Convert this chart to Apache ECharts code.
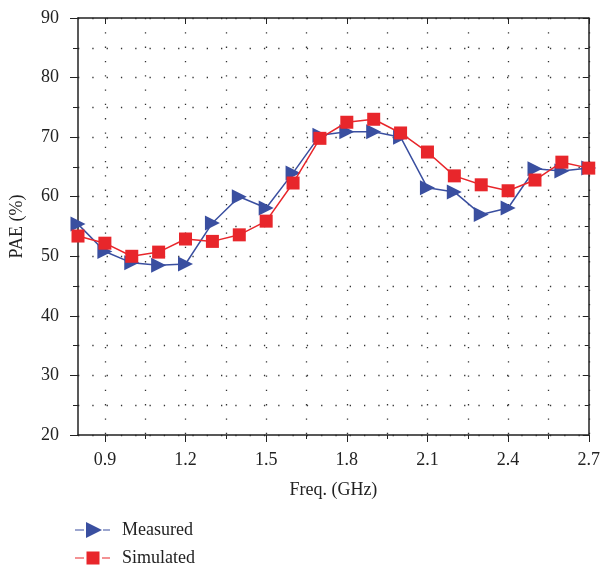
<!DOCTYPE html>
<html>
<head>
<meta charset="utf-8">
<script src="https://cdn.jsdelivr.net/npm/echarts@6/dist/echarts.min.js"></script>
<style>
  html, body { margin: 0; padding: 0; background: #fff; }
  #chart { width: 603px; height: 567px; }
</style>
</head>
<body>
<div id="chart"></div>
<script>
const freq = [0.8, 0.9, 1.0, 1.1, 1.2, 1.3, 1.4, 1.5, 1.6, 1.7, 1.8, 1.9, 2.0, 2.1, 2.2, 2.3, 2.4, 2.5, 2.6, 2.7]
const measured = [55.4, 50.8, 48.9, 48.5, 48.7, 55.6, 60.0, 58.1, 64.0, 70.3, 70.9, 70.9, 70.0, 61.5, 60.8, 57.0, 58.1, 64.7, 64.3, 64.8]
const simulated = [53.4, 52.2, 50.0, 50.7, 52.9, 52.5, 53.6, 55.9, 62.3, 69.8, 72.5, 73.0, 70.7, 67.5, 63.5, 62.0, 61.0, 62.8, 65.8, 64.8]
const xMajor = [0.9, 1.2, 1.5, 1.8, 2.1, 2.4, 2.7]
const xGrid = [0.9, 1.05, 1.2, 1.35, 1.5, 1.65, 1.8, 1.95, 2.1, 2.25, 2.4, 2.55, 2.7]

const font = '"Liberation Serif", "DejaVu Serif", serif'
const ink = '#222'
const dotted = { color: '#333', width: 1.3, type: [1.3, 13] }
const blue = '#3a4fa0'
const red = '#e8262b'
const rightTri = 'path://M0,0 L10,5 L0,10 Z'
// legend icons: short dash, marker, short dash
const triIcon = 'path://M0,7.4h9v1.2h-9z M11,0 L27,8 L11,16 Z M28,7.4h7v1.2h-7z'
const sqIcon = 'path://M0,7.4h9v1.2h-9z M11.5,1.5h13v13h-13z M27,7.4h8v1.2h-8z'

const chart = echarts.init(document.getElementById('chart'))

const baseX = {
  type: 'value',
  min: 0.8,
  max: 2.7,
  axisLine: { show: false },
  axisLabel: { show: false },
  axisTick: { show: false },
  splitLine: { show: false }
}

const legendBase = {
  left: 75,
  padding: 0,
  itemWidth: 35,
  itemHeight: 16,
  itemGap: 12,
  textStyle: { fontFamily: font, fontSize: 18, color: ink, padding: [0, 0, 0, 7] }
}

chart.setOption({
  animation: false,
  grid: { left: 77, right: 12, top: 18, bottom: 132 },
  legend: [
    { ...legendBase, top: 521, data: [{ name: 'Measured', icon: triIcon }] },
    { ...legendBase, top: 549, data: [{ name: 'Simulated', icon: sqIcon }] }
  ],
  xAxis: [
    {
      ...baseX,
      position: 'bottom',
      name: 'Freq. (GHz)',
      nameLocation: 'middle',
      nameGap: 46,
      nameTextStyle: { fontFamily: font, fontSize: 18, color: ink },
      axisLine: { show: true, onZero: false, lineStyle: { color: ink, width: 1.5 } },
      axisTick: { show: true, length: 7, customValues: xMajor, lineStyle: { color: ink } },
      axisLabel: {
        show: true,
        customValues: xMajor,
        margin: 16,
        fontFamily: font,
        fontSize: 18,
        color: ink,
        formatter: (v) => v.toFixed(1)
      }
    },
    {
      ...baseX,
      position: 'bottom',
      axisTick: { show: true, length: 4, customValues: xGrid, lineStyle: { color: ink } },
      splitLine: { show: true, lineStyle: dotted }
    },
    {
      ...baseX,
      position: 'top',
      axisLine: { show: true, onZero: false, lineStyle: { color: ink, width: 1.5 } },
      axisTick: { show: true, inside: true, length: 6, customValues: xMajor, lineStyle: { color: ink } }
    }
  ],
  yAxis: [
    {
      type: 'value',
      position: 'left',
      min: 20,
      max: 90,
      interval: 10,
      name: 'PAE (%)',
      nameLocation: 'middle',
      nameGap: 52,
      nameTextStyle: { fontFamily: font, fontSize: 18, color: ink },
      axisLine: { show: true, onZero: false, lineStyle: { color: ink, width: 1.5 } },
      axisTick: { show: true, length: 8, lineStyle: { color: ink } },
      minorTick: { show: true, splitNumber: 2, length: 5, lineStyle: { color: ink } },
      axisLabel: { margin: 19, fontFamily: font, fontSize: 18, color: ink },
      splitLine: { show: true, lineStyle: dotted },
      minorSplitLine: { show: true, lineStyle: dotted }
    },
    {
      type: 'value',
      position: 'right',
      min: 20,
      max: 90,
      interval: 10,
      axisLine: { show: true, onZero: false, lineStyle: { color: ink, width: 1.5 } },
      axisTick: { show: true, inside: true, length: 6, lineStyle: { color: ink } },
      minorTick: { show: true, splitNumber: 2, length: 4, lineStyle: { color: ink } },
      axisLabel: { show: false },
      splitLine: { show: false }
    }
  ],
  series: [
    {
      name: 'Measured',
      type: 'line',
      xAxisIndex: 0,
      yAxisIndex: 0,
      data: freq.map((f, i) => [f, measured[i]]),
      symbol: rightTri,
      symbolSize: [15, 15],
      lineStyle: { color: blue, width: 1.5 },
      itemStyle: { color: blue },
      z: 3
    },
    {
      name: 'Simulated',
      type: 'line',
      xAxisIndex: 0,
      yAxisIndex: 0,
      data: freq.map((f, i) => [f, simulated[i]]),
      symbol: 'rect',
      symbolSize: 13,
      lineStyle: { color: red, width: 1.5 },
      itemStyle: { color: red },
      z: 4
    }
  ]
})
</script>
</body>
</html>
